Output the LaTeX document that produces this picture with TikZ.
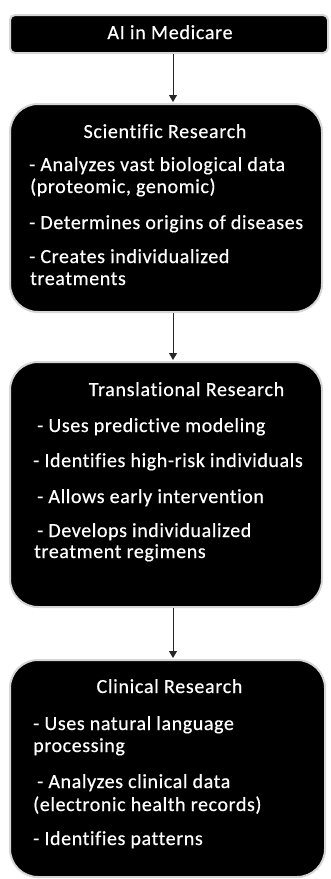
\documentclass[tikz,border=0pt]{standalone}
\usepackage{fontspec}
\setmainfont{Carlito}[Ligatures=NoCommon]
\newfontfamily\bodyfont{Carlito}[Ligatures=NoCommon, LetterSpace=3.0, FakeBold=0.5]
\newfontfamily\titlefont{Carlito}[Ligatures=NoCommon, LetterSpace=3.5, FakeBold=0.5]
\usetikzlibrary{arrows.meta}
\tikzset{
  box/.style={fill=black, draw=black!16, line width=2pt, inner sep=0pt},
  txt/.style={text=white, inner sep=0pt, anchor=base west, font=\bodyfont\fontsize{20}{22}\selectfont},
  ttl/.style={text=white, inner sep=0pt, anchor=base, font=\titlefont\fontsize{20}{22}\selectfont},
  arr/.style={-{Triangle[width=8pt,length=7pt]}, line width=0.9pt, black!85, shorten >=1pt}
}
\begin{document}
\begin{tikzpicture}[x=1pt,y=-1pt]
\useasboundingbox (0,0) rectangle (330,879);
% boxes
\node[box, rounded corners=5pt, minimum width=318pt, minimum height=38pt] (top) at (169,34) {};
\node[box, rounded corners=28pt, minimum width=312pt, minimum height=208pt] (sci) at (166,208) {};
\node[box, rounded corners=28pt, minimum width=312pt, minimum height=245pt] (tra) at (166,484.5) {};
\node[box, rounded corners=28pt, minimum width=315pt, minimum height=217pt] (cli) at (167.5,768.5) {};
\coordinate (ax) at (173,0);
% arrows
\draw[arr] (top.south -| ax) -- (sci.north -| ax);
\draw[arr] (sci.south -| ax) -- (tra.north -| ax);
\draw[arr] (tra.south -| ax) -- (cli.north -| ax);
% texts
\node[ttl] (t0) at (170,39) {AI in Medicare};
\node[ttl] (t1) at (165,138) {Scientific Research};
\node[txt] (s1) at (29,171) {- Analyzes vast biological data};
\node[txt] (s2) at (30,193) {(proteomic, genomic)};
\node[txt] (s3) at (29,229) {- Determines origins of diseases};
\node[txt] (s4) at (29,263) {- Creates individualized};
\node[txt] (s5) at (30,285) {treatments};
\node[ttl] (t2) at (186.5,396) {Translational Research};
\node[txt] (r1) at (37,432) {- Uses predictive modeling};
\node[txt] (r2) at (33,467) {- Identifies high-risk individuals};
\node[txt] (r3) at (37,503) {- Allows early intervention};
\node[txt] (r4) at (37,537) {- Develops individualized};
\node[txt] (r5) at (34,558) {treatment regimens};
\node[ttl] (t3) at (169.5,693) {Clinical Research};
\node[txt] (c1) at (33,730) {- Uses natural language};
\node[txt] (c2) at (33,752) {processing};
\node[txt] (c3) at (37,788) {- Analyzes clinical data};
\node[txt] (c4) at (33,811) {(electronic health records)};
\node[txt] (c5) at (33,845) {- Identifies patterns};
\end{tikzpicture}
\end{document}
